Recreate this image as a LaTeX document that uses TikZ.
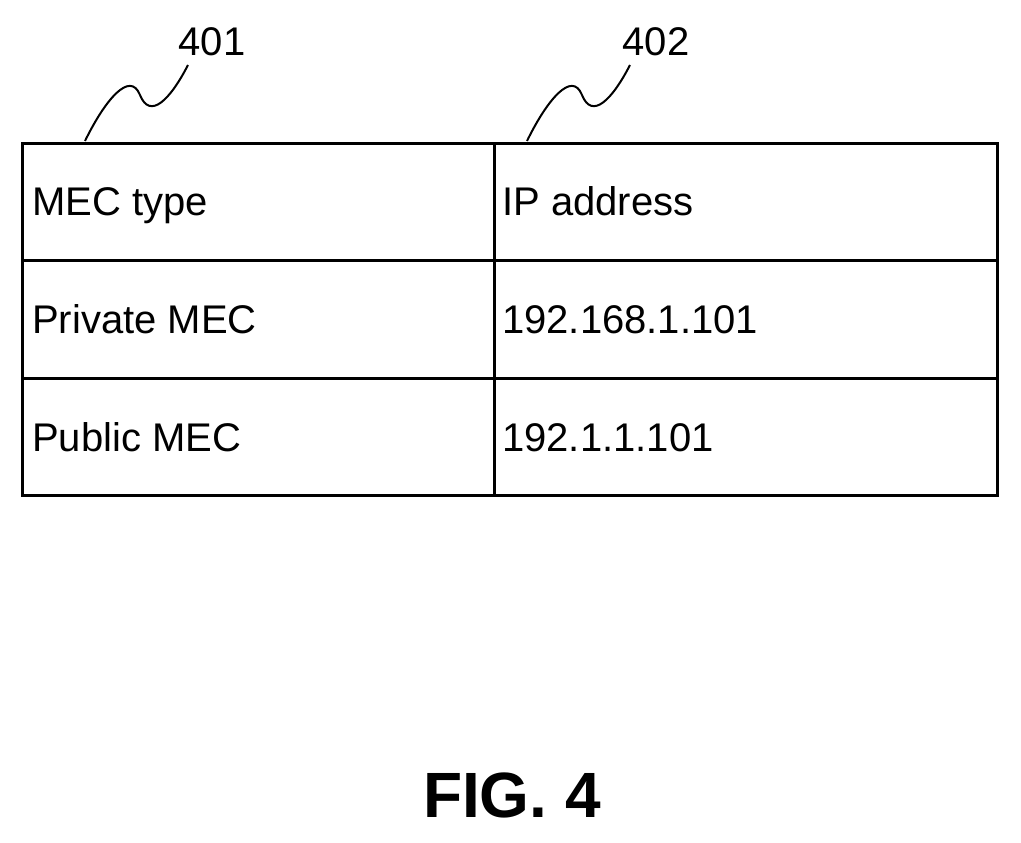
\documentclass[tikz,border=0pt]{standalone}
\usepackage{fontspec}
\setmainfont{Liberation Sans}
\begin{document}
\begin{tikzpicture}[x=1pt,y=-1pt,
  cell/.style={anchor=base west,font=\fontsize{40}{44}\selectfont,inner sep=0pt},
  lead/.style={line width=2pt}]
\useasboundingbox (0,0) rectangle (1021,843);
\draw[line width=3pt] (22,143) rectangle (997,495);
\draw[line width=3pt] (494,143) -- (494,495);
\draw[line width=3pt] (22,260) -- (997,260);
\draw[line width=3pt] (22,378) -- (997,378);
\node[cell] (a1) at (32,215) {MEC type};
\node[cell] (b1) at (502,215) {IP address};
\node[cell] (a2) at (32,333) {Private MEC};
\node[cell] (b2) at (502,333) {192.168.1.101};
\node[cell] (a3) at (32,451) {Public MEC};
\node[cell] (b3) at (502,451) {192.1.1.101};
\node[font=\fontsize{40}{44}\selectfont] (l1) at (212,42) {401};
\node[font=\fontsize{40}{44}\selectfont] (l2) at (656,42) {402};
\coordinate (s1) at (85,141);
\coordinate (e1) at (188,65);
\coordinate (s2) at (527,141);
\coordinate (e2) at (630,65);
\draw[lead] (s1) .. controls (105,100) and (130,70) .. (140,95) .. controls (150,120) and (170,100) .. (e1);
\draw[lead] (s2) .. controls (547,100) and (572,70) .. (582,95) .. controls (592,120) and (612,100) .. (e2);
\node[font=\bfseries\fontsize{64}{70}\selectfont] (fig) at (512,795) {FIG. 4};
\end{tikzpicture}
\end{document}
